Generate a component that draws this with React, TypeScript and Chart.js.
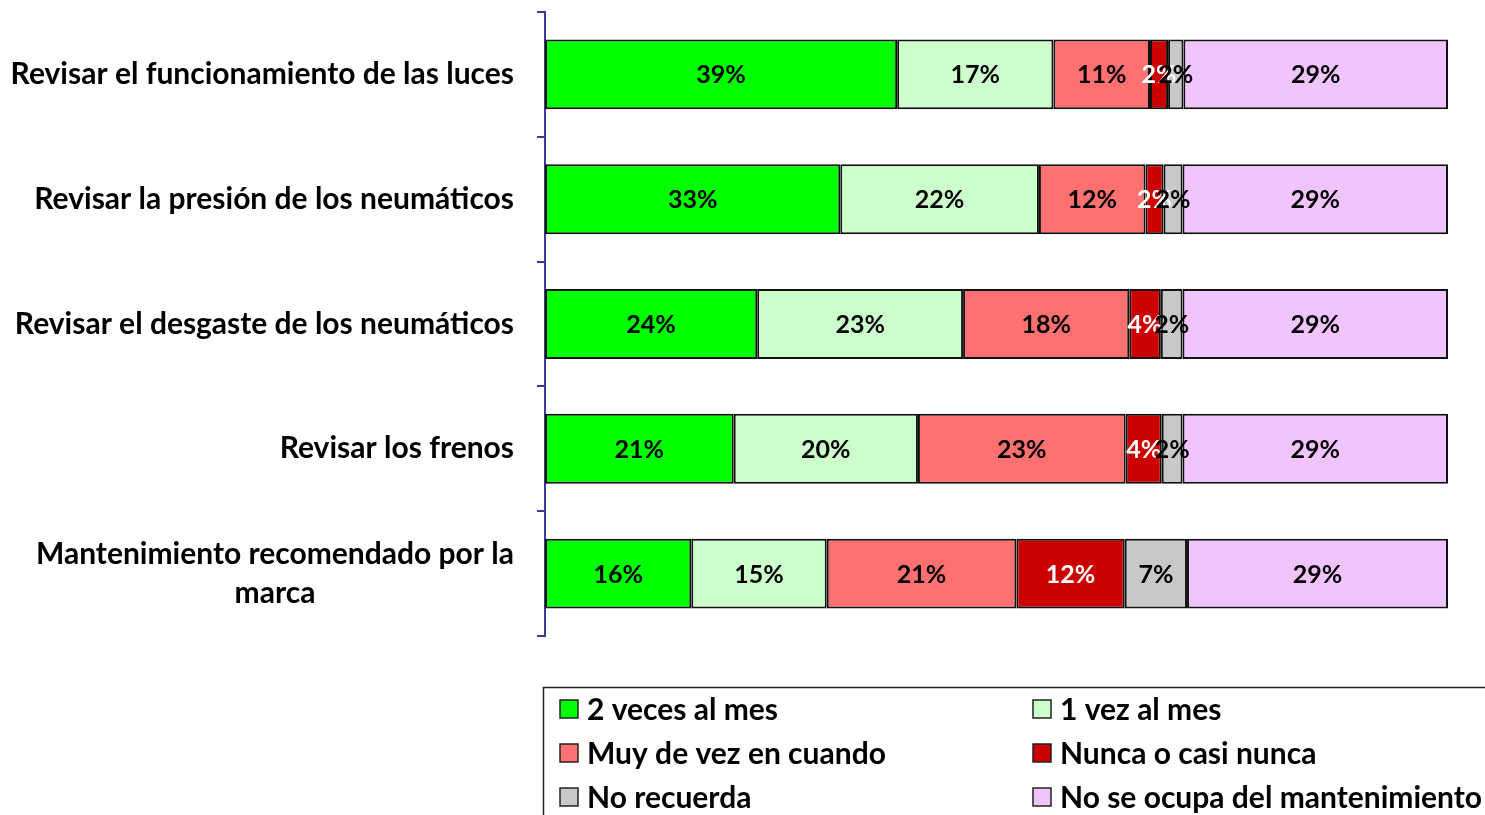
import React, { useEffect, useRef } from "react";
import { Chart, registerables } from "chart.js";

Chart.register(...registerables);

const categories: string[][] = [
  ["Revisar el funcionamiento de las luces"],
  ["Revisar la presión de los neumáticos"],
  ["Revisar el desgaste de los neumáticos"],
  ["Revisar los frenos"],
  ["Mantenimiento recomendado por la", "marca"],
];

const seriesNames = [
  "2 veces al mes",
  "1 vez al mes",
  "Muy de vez en cuando",
  "Nunca o casi nunca",
  "No recuerda",
  "No se ocupa del mantenimiento",
];

const dosVecesAlMes = [39.0, 32.7, 23.5, 20.9, 16.2];
const unaVezAlMes = [17.3, 22.0, 22.8, 20.4, 15.0];
const muyDeVezEnCuando = [10.7, 11.8, 18.4, 23.0, 21.0];
const nuncaOCasiNunca = [2.0, 2.0, 3.5, 4.0, 12.0];
const noRecuerda = [1.7, 2.1, 2.4, 2.3, 6.9];
const noSeOcupa = [29.3, 29.4, 29.4, 29.4, 28.9];

const seriesColors = ["#00FF00", "#CCFFCC", "#FF7070", "#CC0000", "#C8C8C8", "#F2C4FF"];
const labelColors = ["#000", "#000", "#000", "#fff", "#000", "#000"];

const FONT = "Lato, 'Open Sans', sans-serif";
const AXIS_COLOR = "#3a3a9a";

const yLabelsPlugin = {
  id: "yLabels",
  afterDraw(chart: any) {
    const ctx = chart.ctx;
    const scale = chart.scales.y;
    ctx.save();
    ctx.font = `bold 30px ${FONT}`;
    ctx.fillStyle = "#000";
    ctx.textAlign = "center";
    ctx.textBaseline = "middle";
    const right = scale.right - 31;
    const lh = 39;
    categories.forEach((lines, i) => {
      const cy = scale.getPixelForTick(i);
      const maxW = Math.max(...lines.map((l) => ctx.measureText(l).width));
      const cx = right - maxW / 2;
      lines.forEach((l, j) => {
        const y = cy + (j - (lines.length - 1) / 2) * lh;
        ctx.fillText(l, cx, y);
      });
    });
    ctx.restore();
  },
};

const dataLabelsPlugin = {
  id: "dataLabels",
  afterDatasetsDraw(chart: any) {
    const ctx = chart.ctx;
    ctx.save();
    ctx.font = `bold 25px ${FONT}`;
    ctx.textAlign = "center";
    ctx.textBaseline = "middle";
    chart.data.datasets.forEach((ds: any, di: number) => {
      const meta = chart.getDatasetMeta(di);
      ctx.fillStyle = labelColors[di];
      meta.data.forEach((el: any, i: number) => {
        const v = ds.data[i];
        const x = (el.x + el.base) / 2;
        ctx.fillText(`${Math.round(v)}%`, x, el.y + 1);
      });
    });
    ctx.restore();
  },
};

const legendPlugin = {
  id: "customLegend",
  afterDraw(chart: any) {
    const ctx = chart.ctx;
    ctx.save();
    ctx.strokeStyle = "#222";
    ctx.lineWidth = 1.5;
    ctx.strokeRect(543.5, 687.5, 1000, 200);
    ctx.font = `bold 30px ${FONT}`;
    ctx.textAlign = "left";
    ctx.textBaseline = "middle";
    const colX = [560, 1033];
    const rowY = [709, 753, 797];
    seriesNames.forEach((name, i) => {
      const x = colX[i % 2];
      const y = rowY[Math.floor(i / 2)];
      ctx.fillStyle = seriesColors[i];
      ctx.fillRect(x, y - 9, 18, 18);
      ctx.strokeStyle = "#222";
      ctx.lineWidth = 1.5;
      ctx.strokeRect(x, y - 9, 18, 18);
      ctx.fillStyle = "#000";
      ctx.fillText(name, x + 27, y + 1);
    });
    ctx.restore();
  },
};

export default function App() {
  const ref = useRef<HTMLCanvasElement | null>(null);

  useEffect(() => {
    if (!ref.current) return;
    const values = [dosVecesAlMes, unaVezAlMes, muyDeVezEnCuando, nuncaOCasiNunca, noRecuerda, noSeOcupa];
    const chart = new Chart(ref.current, {
      type: "bar",
      data: {
        labels: categories.map((c) => c.join(" ")),
        datasets: values.map((v, i) => ({
          label: seriesNames[i],
          data: v,
          backgroundColor: seriesColors[i],
          borderColor: "#111",
          borderWidth: 2,
          borderSkipped: false,
          barPercentage: 0.56,
          categoryPercentage: 1,
        })),
      },
      options: {
        indexAxis: "y",
        responsive: false,
        animation: false,
        layout: { padding: { top: 12, bottom: 179, right: 37, left: 0 } },
        plugins: {
          legend: { display: false },
          tooltip: { enabled: false },
        },
        scales: {
          x: {
            stacked: true,
            min: 0,
            max: 100,
            display: false,
          },
          y: {
            stacked: true,
            ticks: { display: false },
            grid: {
              drawOnChartArea: false,
              drawTicks: true,
              tickLength: 8,
              color: AXIS_COLOR,
              lineWidth: 2,
              offset: true,
            },
            border: { display: true, color: AXIS_COLOR, width: 2 },
            afterFit: (scale: any) => {
              scale.width = 545;
            },
          },
        },
      },
      plugins: [dataLabelsPlugin, yLabelsPlugin, legendPlugin],
    } as any);
    return () => chart.destroy();
  }, []);

  return (
    <div style={{ position: "fixed", left: 0, top: 0, width: 1485, height: 815, background: "#fff" }}>
      <canvas ref={ref} width={1485} height={815} />
    </div>
  );
}
